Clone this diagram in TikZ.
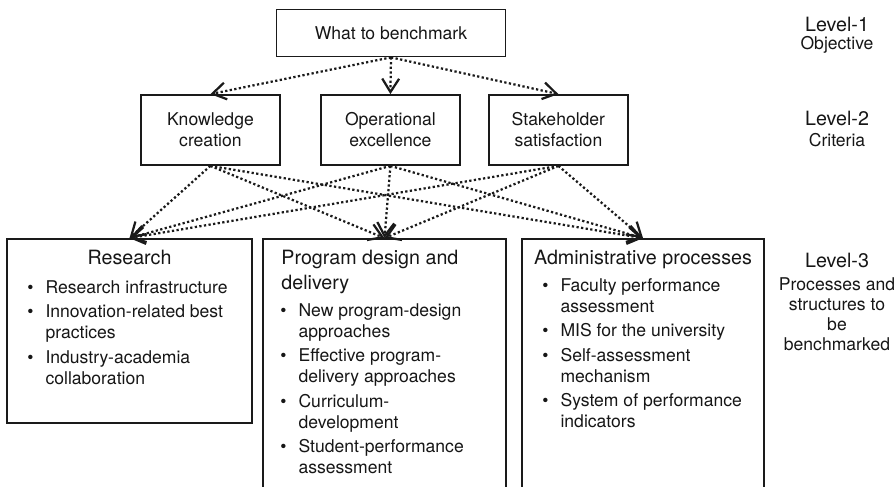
\documentclass[tikz,border=0pt]{standalone}
\usepackage{fontspec}
\setmainfont{TeX Gyre Heros}
\definecolor{boxline}{HTML}{1A1A1A}
\definecolor{inktext}{HTML}{161616}
\usetikzlibrary{arrows.meta,positioning}
\newcommand{\boxfont}{\fontsize{12.5}{15}\selectfont}
\newcommand{\headfont}{\fontsize{14}{17.8}\selectfont}
\newcommand{\listbullet}{\textbullet}
\tikzset{
    objectivebox/.style={
        draw=boxline,
        fill=white,
        line width=1.25pt,
        minimum width=5.725cm,
        minimum height=1.175cm,
        align=center,
        text=inktext,
        font=\boxfont
    },
    criterionbox/.style={
        objectivebox,
        minimum width=3.475cm,
        minimum height=1.75cm
    },
    processbox/.style={
        draw=boxline,
        line width=1.25pt
    },
    processtitle/.style={
        inner sep=0pt,
        text=inktext,
        font=\headfont
    },
    processlist/.style={
        inner sep=0pt,
        text=inktext,
        font=\boxfont
    },
    levelname/.style={
        inner sep=0pt,
        text=inktext,
        font=\headfont
    },
    leveldesc/.style={
        inner sep=0pt,
        align=center,
        text=inktext,
        font=\fontsize{12.5}{14.2}\selectfont
    },
    levelarrow/.style={
        -{Straight Barb[length=9.5pt,width=12pt]},
        draw=boxline,
        line width=1.6pt,
        dash pattern=on 1.6pt off 1.7pt
    }
}

\begin{document}
\begin{tikzpicture}
    \useasboundingbox (0,0) rectangle (22.4,-12.15);
    \clip (0,0) rectangle (22.4,-12.15);

    \node[objectivebox] (benchmark) at (9.775,-0.825) {What to benchmark};

    \node[criterionbox] (knowledge) at (5.26,-3.25) {Knowledge\\creation};
    \node[criterionbox] (operational) at (9.76,-3.25) {Operational\\excellence};
    \node[criterionbox] (stakeholder) at (13.96,-3.25) {Stakeholder\\satisfaction};

    \node[processbox,minimum width=6.125cm,minimum height=4.6cm] (research) at (3.2375,-8.275) {};
    \node[processbox,minimum width=6.075cm,minimum height=7cm] (program) at (9.6125,-9.475) {};
    \node[processbox,minimum width=6.05cm,minimum height=7cm] (admin) at (16.075,-9.475) {};

    \node[processtitle,below=0.3cm of research.north] (researchtitle) {Research};
    \node[processlist,below right=1.0cm and 0.525cm of research.north west] (researchlist) {%
        \begin{tabular}{@{}l@{\hspace{0.3cm}}l@{}}
            \listbullet & Research infrastructure\\[2.4pt]
            \listbullet & Innovation-related best\\
                        & practices\\[2.4pt]
            \listbullet & Industry-academia\\
                        & collaboration
        \end{tabular}};

    \node[processtitle,align=left,below right=0.3cm and 0.475cm of program.north west] (programtitle)
        {Program design and\\delivery};
    \node[processlist,below right=1.575cm and 0.45cm of program.north west] (programlist) {%
        \begin{tabular}{@{}l@{\hspace{0.3cm}}l@{}}
            \listbullet & New program-design\\
                        & approaches\\[2.4pt]
            \listbullet & Effective program-\\
                        & delivery approaches\\[2.4pt]
            \listbullet & Curriculum-\\
                        & development\\[2.4pt]
            \listbullet & Student-performance\\
                        & assessment
        \end{tabular}};

    \node[processtitle,below=0.3cm of admin.north] (admintitle) {Administrative processes};
    \node[processlist,below right=0.95cm and 0.525cm of admin.north west] (adminlist) {%
        \begin{tabular}{@{}l@{\hspace{0.3cm}}l@{}}
            \listbullet & Faculty performance\\
                        & assessment\\[2.4pt]
            \listbullet & MIS for the university\\[2.4pt]
            \listbullet & Self-assessment\\
                        & mechanism\\[2.4pt]
            \listbullet & System of performance\\
                        & indicators
        \end{tabular}};

    \node[levelname] (level1) at (20.925,-0.6) {Level-1};
    \node[leveldesc] (objective) at (20.925,-1.125) {Objective};
    \node[levelname] (level2) at (20.925,-2.95) {Level-2};
    \node[leveldesc] (criteria) at (20.925,-3.5) {Criteria};
    \node[levelname] (level3) at (20.925,-6.5) {Level-3};
    \node[leveldesc] (structures) at (20.925,-7.86) {Processes and\\structures to\\be\\benchmarked};

    \draw[levelarrow] (benchmark.south) -- (knowledge.north);
    \draw[levelarrow] (benchmark.south) -- (operational.north);
    \draw[levelarrow] (benchmark.south) -- (stakeholder.north);

    \draw[levelarrow] (knowledge.south) -- (research.north);
    \draw[levelarrow] (knowledge.south) -- (program.north);
    \draw[levelarrow] (knowledge.south) -- (admin.north);
    \draw[levelarrow] (operational.south) -- (research.north);
    \draw[levelarrow] (operational.south) -- (program.north);
    \draw[levelarrow] (operational.south) -- (admin.north);
    \draw[levelarrow] (stakeholder.south) -- (research.north);
    \draw[levelarrow] (stakeholder.south) -- (program.north);
    \draw[levelarrow] (stakeholder.south) -- (admin.north);
\end{tikzpicture}
\end{document}
